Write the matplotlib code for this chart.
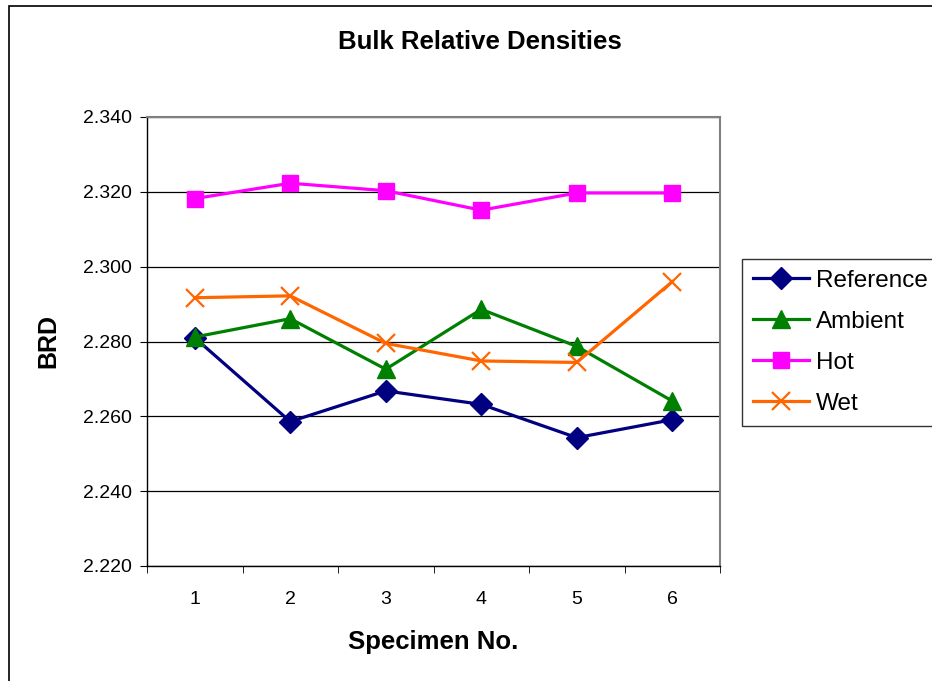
import matplotlib
matplotlib.use("Agg")
import matplotlib.pyplot as plt
from matplotlib.patches import Rectangle
from matplotlib.ticker import FixedLocator, NullFormatter

plt.rcParams['font.family'] = ['Liberation Sans', 'DejaVu Sans']

# data
specimens = [1, 2, 3, 4, 5, 6]
reference = [2.2810, 2.2586, 2.2668, 2.2632, 2.2543, 2.2591]
ambient = [2.2812, 2.2861, 2.2726, 2.2886, 2.2787, 2.2641]
hot = [2.3182, 2.3223, 2.3203, 2.3151, 2.3197, 2.3197]
wet = [2.2917, 2.2922, 2.2795, 2.2748, 2.2744, 2.2960]
yticks = [2.220, 2.240, 2.260, 2.280, 2.300, 2.320, 2.340]

fig = plt.figure(figsize=(9.32, 6.81), dpi=100)
ax = fig.add_axes([147/932, 1 - 566/681, 573/932, 449/681])

# outer chart border
fig.patches.append(Rectangle((9/932, -0.1), 1.2, 1.1 - 6/681, transform=fig.transFigure,
                             fill=False, edgecolor='black', linewidth=1.2))

ax.plot(specimens, reference, color='#000080', lw=2.3, marker='D', ms=11, label='Reference')
ax.plot(specimens, ambient, color='#008000', lw=2.3, marker='^', ms=13, label='Ambient')
ax.plot(specimens, hot, color='#FF00FF', lw=2.3, marker='s', ms=11, label='Hot')
ax.plot(specimens, wet, color='#FF6600', lw=2.3, marker='x', ms=13, mew=1.6, label='Wet')

ax.set_xlim(0.5, 6.5)
ax.set_ylim(2.220, 2.340)
ax.set_yticks(yticks)
ax.set_yticklabels([f'{v:.3f}' for v in yticks], fontsize=14)
ax.yaxis.grid(True, color='black', lw=0.9)
ax.set_axisbelow(True)

ax.set_xticks(specimens)
ax.set_xticklabels([str(s) for s in specimens], fontsize=14)
ax.tick_params(axis='x', which='major', length=0, pad=18)
ax.xaxis.set_minor_locator(FixedLocator([0.5, 1.5, 2.5, 3.5, 4.5, 5.5, 6.5]))
ax.xaxis.set_minor_formatter(NullFormatter())
ax.tick_params(axis='x', which='minor', length=5, direction='out', color='black')
ax.tick_params(axis='y', length=5, direction='out', color='black', pad=6)

for side in ['top', 'right']:
    ax.spines[side].set_color('#808080')
    ax.spines[side].set_linewidth(1.5)
for side in ['left', 'bottom']:
    ax.spines[side].set_color('black')
    ax.spines[side].set_linewidth(1.0)

fig.text(480/932, 1 - 42/681, 'Bulk Relative Densities', fontsize=18.5, fontweight='bold',
         ha='center', va='center')
ax.set_xlabel('Specimen No.', fontsize=18.5, fontweight='bold', labelpad=16)
ax.set_ylabel('BRD', fontsize=18, fontweight='bold', labelpad=16)

leg = ax.legend(loc='upper left', bbox_to_anchor=(1.038, 0.684), borderaxespad=0,
                fontsize=17.5, frameon=True, fancybox=False, edgecolor='black',
                handlelength=2.3, handletextpad=0.3, labelspacing=0.78, borderpad=0.45)
leg.get_frame().set_linewidth(1.0)

fig.savefig('out.png', dpi=100)
